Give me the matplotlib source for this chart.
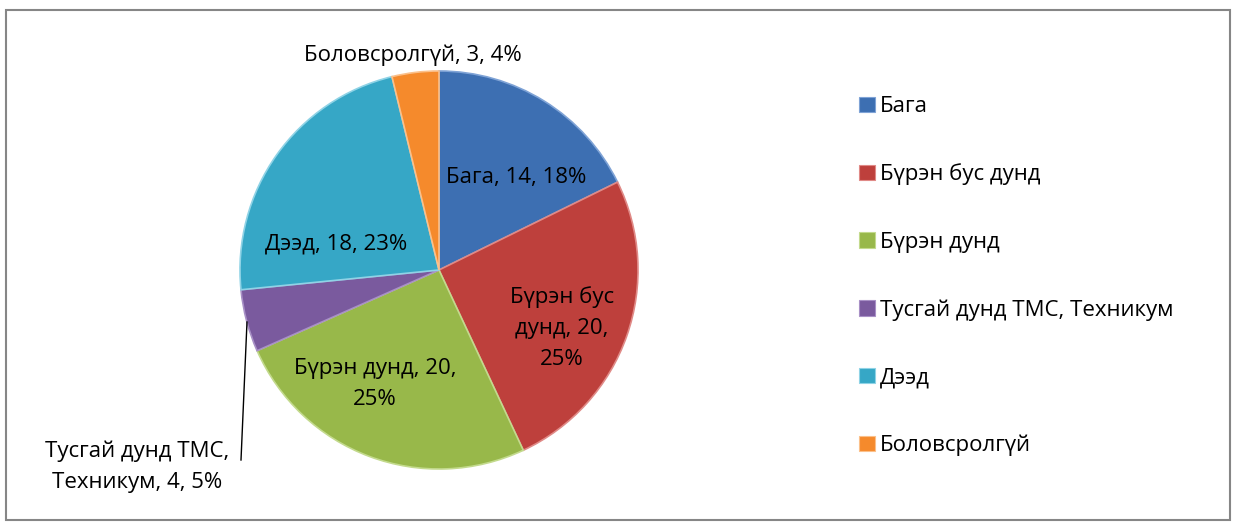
import matplotlib
matplotlib.use("Agg")
import matplotlib.pyplot as plt
from matplotlib.patches import Rectangle

categories = ["Бага", "Бүрэн бус дунд", "Бүрэн дунд", "Тусгай дунд ТМС, Техникум", "Дээд", "Боловсролгүй"]
values = [14, 20, 20, 4, 18, 3]
percents = ["18%", "25%", "25%", "5%", "23%", "4%"]
colors = ["#3D6FB2", "#BE403C", "#98B84A", "#7A5A9E", "#36A7C6", "#F58A2C"]
edge_colors = ["#7FA3D6", "#E08A87", "#C3DA8D", "#A890C6", "#8FD3E6", "#FBC08A"]

label_texts = [
    "Бага, 14, 18%",
    "Бүрэн бус\nдунд, 20,\n25%",
    "Бүрэн дунд, 20,\n25%",
    "Тусгай дунд ТМС,\nТехникум, 4, 5%",
    "Дээд, 18, 23%",
    "Боловсролгүй, 3, 4%",
]
# label centres in pixel coordinates of the 1236x527 picture
label_px = [(516, 178), (562, 328), (375, 384), (137, 467), (336, 244), (413, 55)]

plt.rcParams['font.family'] = ['Open Sans', 'DejaVu Sans']

W, H = 1236, 527
fig = plt.figure(figsize=(W / 100, H / 100), dpi=100)
ax = fig.add_axes([0, 0, 1, 1])
cx, cy, R = 439, 270, 199

def px(x, y):
    return ((x - cx) / R, (cy - y) / R)

wedges, _ = ax.pie(values, colors=colors, startangle=90, counterclock=False,
                   radius=1.0, center=(0, 0), frame=True)
for w, ec in zip(wedges, edge_colors):
    w.set_edgecolor(ec)
    w.set_linewidth(1.2)
ax.set_xlim(-cx / R, (W - cx) / R)
ax.set_ylim((cy - H) / R, cy / R)
ax.set_aspect("auto")
ax.axis("off")

fs = 16
for t, (x, y) in zip(label_texts, label_px):
    ax.text(*px(x, y), t, ha="center", va="center", fontsize=fs,
            color="black", linespacing=1.62)

# leader line for the small purple slice
ax.plot(*zip(px(247, 322), px(241, 460)), color="black", linewidth=1)

# outer frame
fig.patches.append(Rectangle((6 / W, 7 / H), 1224 / W, 510 / H, transform=fig.transFigure,
                             fill=False, edgecolor="#868686", linewidth=1.5))

# legend
handles = [Rectangle((0, 0), 1, 1, facecolor=c, edgecolor=ec, linewidth=0.8)
           for c, ec in zip(colors, edge_colors)]
leg = fig.legend(handles, categories, loc="upper left",
                 bbox_to_anchor=(848 / W, 1 - 85 / H), frameon=False,
                 fontsize=fs, handlelength=0.7, handleheight=0.7,
                 handletextpad=0.25, labelspacing=2.09, borderpad=0)

fig.savefig("out.png", dpi=100)
